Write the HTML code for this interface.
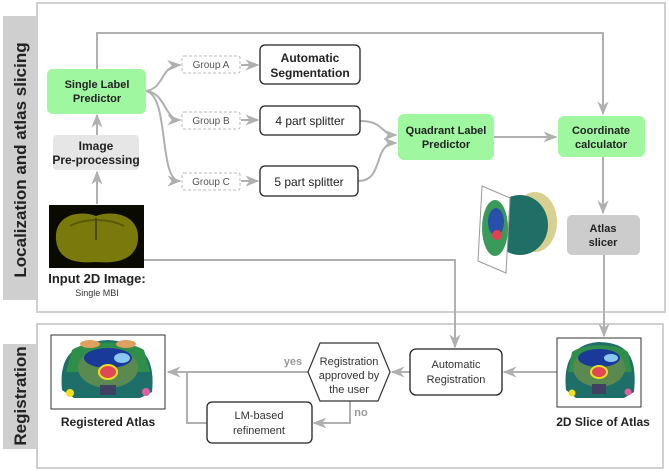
<!DOCTYPE html>
<html><head><meta charset="utf-8"><style>
body{margin:0;background:#fff}
svg{display:block}
text{font-family:"Liberation Sans",Arial,sans-serif}
</style></head><body>
<svg width="669" height="473" viewBox="0 0 669 473" xmlns="http://www.w3.org/2000/svg">
<defs>
<marker id="a" viewBox="0 0 10 10" refX="9" refY="5" markerWidth="7" markerHeight="7" orient="auto"><path d="M0,1 L10,5 L0,9 L3,5z" fill="#b0b0b0"/></marker>
</defs>
<rect x="37" y="3" width="628" height="309" fill="#fff" stroke="#d0d0d0" stroke-width="2"/>
<rect x="3" y="16" width="34" height="284" fill="#cfcfcf"/>
<text transform="translate(26,160) rotate(-90)" text-anchor="middle" font-size="17" font-weight="bold" fill="#222">Localization and atlas slicing</text>
<rect x="37" y="324" width="626" height="144" fill="#fff" stroke="#d0d0d0" stroke-width="2"/>
<rect x="3" y="344" width="34" height="105" fill="#cfcfcf"/>
<text transform="translate(26,396) rotate(-90)" text-anchor="middle" font-size="17" font-weight="bold" fill="#222">Registration</text>

<g fill="none" stroke="#b0b0b0" stroke-width="2">
<path d="M97,69 V33 H603 V114" marker-end="url(#a)"/>
<path d="M97,204 V172" marker-end="url(#a)"/>
<path d="M97,135 V115" marker-end="url(#a)"/>
<path d="M146,91 C165,88 160,66 180,65" marker-end="url(#a)"/>
<path d="M146,91 C165,92 165,120 180,120" marker-end="url(#a)"/>
<path d="M146,91 C170,96 158,181 180,181" marker-end="url(#a)"/>
<path d="M241,65 H258" marker-end="url(#a)"/>
<path d="M241,120 H258" marker-end="url(#a)"/>
<path d="M241,181 H258" marker-end="url(#a)"/>
<path d="M360,121 C385,121 380,135 396,135" marker-end="url(#a)"/>
<path d="M358,181 C385,181 372,143 396,143" marker-end="url(#a)"/>
<path d="M494,137 H556" marker-end="url(#a)"/>
<path d="M603,157 V213" marker-end="url(#a)"/>
<path d="M144,260 H455 V347" marker-end="url(#a)"/>
<path d="M604,255 V336" marker-end="url(#a)"/>
<path d="M557,372 H504" marker-end="url(#a)"/>
<path d="M410,372 H392" marker-end="url(#a)"/>
<path d="M308,372 H168" marker-end="url(#a)"/>
<path d="M207,423 H187 V372"/>
<path d="M350,401 V423 H314" marker-end="url(#a)"/>
</g>

<rect x="47" y="69" width="99" height="45" rx="6" fill="#9ff7a0"/>
<text x="97" y="88" text-anchor="middle" font-size="11" font-weight="bold" fill="#222">Single Label</text>
<text x="97" y="102" text-anchor="middle" font-size="11" font-weight="bold" fill="#222">Predictor</text>
<rect x="53" y="135" width="86" height="35" rx="4" fill="#e6e6e6"/>
<text x="96" y="150" text-anchor="middle" font-size="12" font-weight="bold" fill="#222">Image</text>
<text x="96" y="164" text-anchor="middle" font-size="12" font-weight="bold" fill="#222">Pre-processing</text>
<rect x="49" y="205" width="95" height="63" fill="#0a0a00"/>
<path d="M56,240 C54,214 80,210 96,216 C112,210 140,214 138,240 C136,258 120,264 96,262 C72,264 58,258 56,240z" fill="#7a7a0c"/>
<path d="M70,226 C85,218 108,218 124,226" fill="none" stroke="#5a5a08" stroke-width="2"/>
<path d="M96,218 V240" stroke="#4a4a06" stroke-width="2"/>
<text x="97" y="283" text-anchor="middle" font-size="13" font-weight="bold" fill="#222">Input 2D Image:</text>
<text x="97" y="296" text-anchor="middle" font-size="9" fill="#333">Single MBI</text>

<g fill="#fff" stroke="#bbb" stroke-dasharray="3,2">
<rect x="182" y="56" width="58" height="17" rx="2"/>
<rect x="182" y="112" width="58" height="17" rx="2"/>
<rect x="182" y="173" width="58" height="17" rx="2"/>
</g>
<g font-size="10" fill="#555" text-anchor="middle">
<text x="211" y="68">Group A</text><text x="211" y="124">Group B</text><text x="211" y="185">Group C</text>
</g>
<g fill="#fff" stroke="#222" stroke-width="1.3">
<rect x="260" y="45" width="100" height="39" rx="5"/>
<rect x="260" y="106" width="100" height="29" rx="5"/>
<rect x="260" y="166" width="98" height="30" rx="5"/>
</g>
<text x="310" y="62" text-anchor="middle" font-size="12" font-weight="bold" fill="#222">Automatic</text>
<text x="310" y="77" text-anchor="middle" font-size="12" font-weight="bold" fill="#222">Segmentation</text>
<text x="310" y="125" text-anchor="middle" font-size="12" fill="#222">4 part splitter</text>
<text x="309" y="186" text-anchor="middle" font-size="12" fill="#222">5 part splitter</text>

<rect x="398" y="114" width="96" height="46" rx="6" fill="#9ff7a0"/>
<text x="446" y="134" text-anchor="middle" font-size="11" font-weight="bold" fill="#222">Quadrant Label</text>
<text x="446" y="148" text-anchor="middle" font-size="11" font-weight="bold" fill="#222">Predictor</text>
<rect x="558" y="116" width="87" height="41" rx="6" fill="#9ff7a0"/>
<text x="601" y="134" text-anchor="middle" font-size="11" font-weight="bold" fill="#222">Coordinate</text>
<text x="601" y="148" text-anchor="middle" font-size="11" font-weight="bold" fill="#222">calculator</text>
<rect x="567" y="215" width="73" height="40" rx="5" fill="#cccccc"/>
<text x="603" y="232" text-anchor="middle" font-size="11" font-weight="bold" fill="#222">Atlas</text>
<text x="603" y="246" text-anchor="middle" font-size="11" font-weight="bold" fill="#222">slicer</text>

<ellipse cx="535" cy="222" rx="22" ry="30" fill="#d8d090"/>
<ellipse cx="520" cy="225" rx="28" ry="30" fill="#1f6f66"/>
<polygon points="482,186 510,198 506,273 478,261" fill="#fff" stroke="#999"/>
<ellipse cx="495" cy="228" rx="13" ry="28" fill="#3a9a5a"/>
<ellipse cx="496" cy="222" rx="8" ry="14" fill="#2850a8"/>
<circle cx="497" cy="235" r="5" fill="#e04050"/>

<rect x="51" y="335" width="114" height="74" fill="#fff" stroke="#333"/>
<g>
<path d="M62,390 C58,350 80,342 108,340 C138,342 156,352 152,392 L140,398 H74z" fill="#1e6e6a"/>
<path d="M72,350 C85,340 130,340 144,350 L150,372 H66z" fill="#2f8f4a"/>
<ellipse cx="90" cy="344" rx="10" ry="4" fill="#e0a060"/>
<ellipse cx="126" cy="344" rx="10" ry="4" fill="#e0a060"/>
<ellipse cx="108" cy="368" rx="30" ry="20" fill="#5a8a50"/>
<ellipse cx="108" cy="358" rx="24" ry="10" fill="#1a3a9a"/>
<ellipse cx="122" cy="358" rx="8" ry="5" fill="#8ac8f0"/>
<ellipse cx="108" cy="372" rx="9" ry="7" fill="#e04858" stroke="#f0e020" stroke-width="2"/>
<rect x="100" y="385" width="16" height="10" fill="#404060"/>
<circle cx="70" cy="393" r="4" fill="#f0e020"/><circle cx="146" cy="392" r="4" fill="#e060a0"/>
</g>
<text x="108" y="426" text-anchor="middle" font-size="12" font-weight="bold" fill="#222">Registered Atlas</text>

<rect x="557" y="338" width="84" height="69" fill="#fff" stroke="#333"/>
<g>
<path d="M566,390 C562,352 582,343 599,342 C624,343 638,352 634,392 L624,398 H576z" fill="#1e6e6a"/>
<path d="M572,352 C584,343 616,343 628,352 L632,372 H568z" fill="#2f8f4a"/>
<ellipse cx="599" cy="368" rx="26" ry="19" fill="#5a8a50"/>
<ellipse cx="599" cy="358" rx="21" ry="9" fill="#1a3a9a"/>
<ellipse cx="611" cy="358" rx="7" ry="4" fill="#8ac8f0"/>
<ellipse cx="599" cy="372" rx="8" ry="6" fill="#e04858" stroke="#f0e020" stroke-width="2"/>
<rect x="592" y="384" width="14" height="10" fill="#404060"/>
<circle cx="572" cy="393" r="3.5" fill="#f0e020"/><circle cx="628" cy="392" r="3.5" fill="#e060a0"/>
</g>
<text x="603" y="426" text-anchor="middle" font-size="12" font-weight="bold" fill="#222">2D Slice of Atlas</text>

<polygon points="320,343 378,343 390,372 378,401 320,401 308,372" fill="#fff" stroke="#333" stroke-width="1.2"/>
<text x="349" y="365" text-anchor="middle" font-size="11" fill="#333">Registration</text>
<text x="349" y="379" text-anchor="middle" font-size="11" fill="#333">approved by</text>
<text x="349" y="393" text-anchor="middle" font-size="11" fill="#333">the user</text>
<text x="293" y="365" text-anchor="middle" font-size="11" font-weight="bold" fill="#999">yes</text>
<text x="361" y="416" text-anchor="middle" font-size="11" font-weight="bold" fill="#999">no</text>

<rect x="410" y="349" width="92" height="46" rx="6" fill="#fff" stroke="#222" stroke-width="1.3"/>
<text x="456" y="368" text-anchor="middle" font-size="11" fill="#333">Automatic</text>
<text x="456" y="383" text-anchor="middle" font-size="11" fill="#333">Registration</text>
<rect x="207" y="402" width="105" height="41" rx="5" fill="#fff" stroke="#222" stroke-width="1.3"/>
<text x="259" y="419" text-anchor="middle" font-size="11" fill="#333">LM-based</text>
<text x="259" y="434" text-anchor="middle" font-size="11" fill="#333">refinement</text>
</svg>
</body></html>
